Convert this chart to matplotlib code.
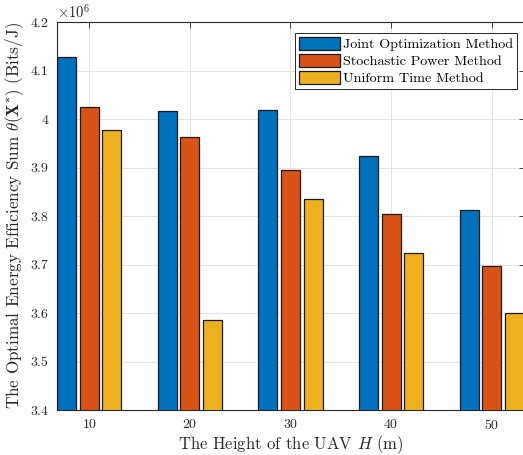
import numpy as np
import matplotlib
matplotlib.use('Agg')
from matplotlib import pyplot as plt
from matplotlib.ticker import FuncFormatter, MultipleLocator

plt.rcParams['font.family'] = 'serif'
plt.rcParams['font.serif'] = ['cmr10']
plt.rcParams['mathtext.fontset'] = 'cm'
plt.rcParams['axes.formatter.use_mathtext'] = True

# data
heights = [10, 20, 30, 40, 50]
joint_opt = [4.128e6, 4.016e6, 4.018e6, 3.924e6, 3.812e6]
stoch_power = [4.025e6, 3.962e6, 3.894e6, 3.805e6, 3.697e6]
uniform_time = [3.977e6, 3.586e6, 3.836e6, 3.724e6, 3.600e6]
labels = ['Joint Optimization Method', 'Stochastic Power Method', 'Uniform Time Method']

# matlab default colors
colors = ['#0072BD', '#D95319', '#EDB120']
axcol = '#262626'

fig = plt.figure(figsize=(5.23, 4.55), dpi=100)
ax = fig.add_axes([57/523, 45/455, 468/523, 388/455])

x = np.array(heights, dtype=float)
bar_w = 1.9
offs = [-2.25, 0, 2.25]
series = [joint_opt, stoch_power, uniform_time]
for i in range(3):
    ax.bar(x + offs[i], series[i], width=bar_w, color=colors[i], edgecolor='#1a1a1a',
           linewidth=0.9, label=labels[i], zorder=3)

ax.set_xlim(6.8, 53.3)
ax.set_ylim(3.4e6, 4.2e6)
ax.set_xticks(heights)
ax.yaxis.set_major_locator(MultipleLocator(0.1e6))
ax.yaxis.set_major_formatter(FuncFormatter(lambda v, p: '%g' % round(v/1e6, 2)))
ax.text(0.0, 1.003, r'$\times10^{6}$', transform=ax.transAxes, ha='left', va='bottom',
        fontsize=10.5, color=axcol)

ax.grid(True, color='#e3e3e3', linewidth=0.7, zorder=0)
ax.set_axisbelow(True)
ax.tick_params(direction='in', top=True, right=True, length=4, width=0.6,
               colors=axcol, labelsize=10, pad=6)
for s in ax.spines.values():
    s.set_color(axcol)
    s.set_linewidth(0.8)

ax.set_xlabel(r'The Height of the UAV $H$ (m)', fontsize=12, color=axcol, labelpad=1)
ax.set_ylabel(r'The Optimal Energy Efficiency Sum $\theta(\mathbf{X}^{*})$ (Bits/J)',
              fontsize=12.3, color=axcol, labelpad=3)

leg = ax.legend(loc='upper right', bbox_to_anchor=(0.988, 0.978), fontsize=10.2,
                fancybox=False, framealpha=1, edgecolor=axcol, borderpad=0.25,
                handlelength=2.9, handleheight=1.0, handletextpad=0.2,
                labelspacing=0.2, borderaxespad=0.2)
leg.get_frame().set_linewidth(0.7)

plt.savefig('out.png', dpi=100)
